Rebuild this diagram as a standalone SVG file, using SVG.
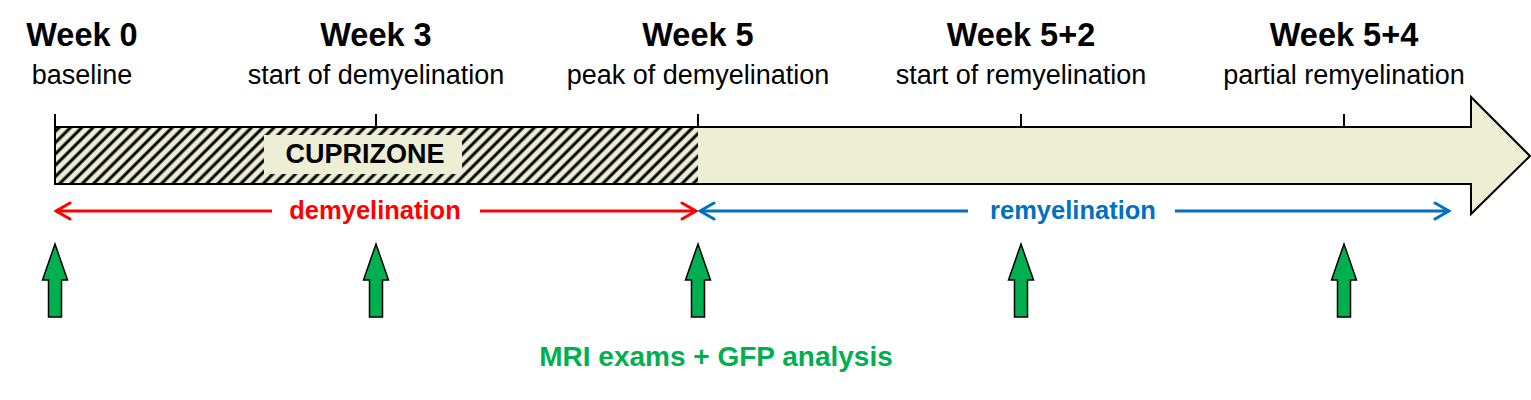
<svg xmlns="http://www.w3.org/2000/svg" width="1531" height="400" viewBox="0 0 1531 400">
<style>
.wk{font-family:"Liberation Sans",Arial,sans-serif;font-weight:bold;font-size:32.5px;fill:#000;text-anchor:middle}
.sub{font-family:"Liberation Sans",Arial,sans-serif;font-size:27px;fill:#000;text-anchor:middle}
.lbl{font-family:"Liberation Sans",Arial,sans-serif;font-weight:bold;font-size:25.5px;text-anchor:middle}
.tick{stroke:#000;stroke-width:2}
.red{stroke:#FF0000;stroke-width:3;fill:none}
.blue{stroke:#0070C0;stroke-width:3;fill:none}
.garrow{fill:#00B050;stroke:#000;stroke-width:1.5}
</style>
<defs>
<pattern id="hatch" width="8" height="8" patternUnits="userSpaceOnUse" patternTransform="rotate(45)">
<rect width="8" height="8" fill="#EDEFD5"/>
<line x1="4" y1="0" x2="4" y2="8" stroke="#000" stroke-width="3"/>
</pattern>
<marker id="mRed" viewBox="0 0 18 20" refX="16" refY="10" markerWidth="18" markerHeight="20" markerUnits="userSpaceOnUse" orient="auto-start-reverse">
<path d="M2,2 L16,10 L2,18" fill="none" stroke="#FF0000" stroke-width="3" stroke-linecap="round"/>
</marker>
<marker id="mBlue" viewBox="0 0 18 20" refX="16" refY="10" markerWidth="18" markerHeight="20" markerUnits="userSpaceOnUse" orient="auto-start-reverse">
<path d="M2,2 L16,10 L2,18" fill="none" stroke="#0070C0" stroke-width="3" stroke-linecap="round"/>
</marker>
<path id="gArrow" class="garrow" d="M0,0 L12.5,36 L6.5,36 L6.5,73 L-6.5,73 L-6.5,36 L-12.5,36 Z"/>
</defs>

<g id="timeline">
<polygon points="55,127 1471,127 1471,97 1530,156 1471,214 1471,184 55,184" fill="#EDEFD5" stroke="#000" stroke-width="2"/>
<rect x="55" y="127" width="643" height="57" fill="url(#hatch)"/>
<line x1="55" y1="127" x2="698" y2="127" stroke="#000" stroke-width="2"/>
<line x1="55" y1="184" x2="698" y2="184" stroke="#000" stroke-width="2"/>
<line x1="55" y1="127" x2="55" y2="184" stroke="#000" stroke-width="2"/>
</g>

<g id="cuprizone">
<rect x="264" y="135" width="198" height="39" fill="#EDEFD5"/>
<text x="365" y="163" class="lbl" style="font-size:27px;fill:#000">CUPRIZONE</text>
</g>

<g id="ticks">
<line class="tick" x1="55" y1="114" x2="55" y2="127"/>
<line class="tick" x1="376" y1="114" x2="376" y2="127"/>
<line class="tick" x1="698" y1="114" x2="698" y2="127"/>
<line class="tick" x1="1021" y1="114" x2="1021" y2="127"/>
<line class="tick" x1="1344" y1="114" x2="1344" y2="127"/>
</g>

<g id="week0"><text x="82" y="46" class="wk">Week 0</text><text x="82" y="84" class="sub">baseline</text></g>
<g id="week3"><text x="376" y="46" class="wk">Week 3</text><text x="376" y="84" class="sub">start of demyelination</text></g>
<g id="week5"><text x="698" y="46" class="wk">Week 5</text><text x="698" y="84" class="sub">peak of demyelination</text></g>
<g id="week5p2"><text x="1021" y="46" class="wk">Week 5+2</text><text x="1021" y="84" class="sub">start of remyelination</text></g>
<g id="week5p4"><text x="1344" y="46" class="wk">Week 5+4</text><text x="1344" y="84" class="sub">partial remyelination</text></g>

<g id="connectors">
<line class="red" x1="56" y1="211" x2="272" y2="211" marker-start="url(#mRed)"/>
<line class="red" x1="480" y1="211" x2="696" y2="211" marker-end="url(#mRed)"/>
<line class="blue" x1="700" y1="211" x2="968" y2="211" marker-start="url(#mBlue)"/>
<line class="blue" x1="1175" y1="211" x2="1449" y2="211" marker-end="url(#mBlue)"/>
</g>

<g id="phase-labels">
<text x="375" y="219" class="lbl" fill="#FF0000">demyelination</text>
<text x="1073" y="219" class="lbl" fill="#0070C0">remyelination</text>
</g>

<g id="exam-arrows">
<use href="#gArrow" x="55" y="244"/>
<use href="#gArrow" x="376" y="244"/>
<use href="#gArrow" x="698" y="244"/>
<use href="#gArrow" x="1021" y="244"/>
<use href="#gArrow" x="1344" y="244"/>
</g>

<g id="exam-label">
<text x="716" y="366" class="lbl" style="font-size:28px" fill="#00B050">MRI exams + GFP analysis</text>
</g>
</svg>
